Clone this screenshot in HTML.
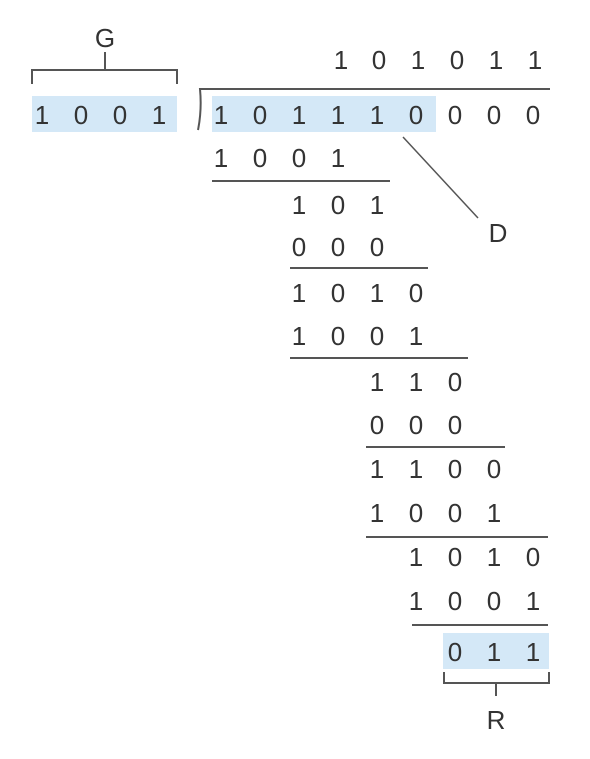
<!DOCTYPE html>
<html><head><style>
body{margin:0;background:#fff;}
svg text{font-family:"Liberation Sans","DejaVu Sans",sans-serif;font-size:26px;fill:#333;text-anchor:middle;dominant-baseline:central;}
</style></head><body>
<svg width="590" height="754" xmlns="http://www.w3.org/2000/svg">
<g fill="#d4e8f7">
<rect x="32" y="96" width="145" height="36"/>
<rect x="212" y="96" width="224" height="36"/>
<rect x="443" y="633" width="106" height="36"/>
</g>
<g stroke="#555" stroke-width="2" fill="none">
<path d="M32 84 V70 H177 V84"/><path d="M105 52 V70"/>
<path d="M198 130 Q202 110 200 89 H550"/>
<path d="M212 181 H390"/><path d="M290 268 H428"/><path d="M290 358 H468"/>
<path d="M366 447 H505"/><path d="M366 537 H548"/><path d="M412 625 H548"/>
<path d="M444 672 V683 H549 V672"/><path d="M496 683 V696"/>
<path d="M403 137 L478 218" stroke-width="1.5"/>
</g>
<text x="105" y="38">G</text>
<text x="498" y="233">D</text>
<text x="496" y="720">R</text>
<g>
<text x="42" y="115">1</text><text x="81" y="115">0</text><text x="120" y="115">0</text><text x="159" y="115">1</text>
<text x="341" y="60">1</text><text x="379" y="60">0</text><text x="418" y="60">1</text><text x="457" y="60">0</text><text x="496" y="60">1</text><text x="535" y="60">1</text>
<text x="221" y="115">1</text><text x="260" y="115">0</text><text x="299" y="115">1</text><text x="338" y="115">1</text><text x="377" y="115">1</text><text x="416" y="115">0</text><text x="455" y="115">0</text><text x="494" y="115">0</text><text x="533" y="115">0</text>
<text x="221" y="158">1</text><text x="260" y="158">0</text><text x="299" y="158">0</text><text x="338" y="158">1</text>
<text x="299" y="205">1</text><text x="338" y="205">0</text><text x="377" y="205">1</text>
<text x="299" y="247">0</text><text x="338" y="247">0</text><text x="377" y="247">0</text>
<text x="299" y="293">1</text><text x="338" y="293">0</text><text x="377" y="293">1</text><text x="416" y="293">0</text>
<text x="299" y="336">1</text><text x="338" y="336">0</text><text x="377" y="336">0</text><text x="416" y="336">1</text>
<text x="377" y="382">1</text><text x="416" y="382">1</text><text x="455" y="382">0</text>
<text x="377" y="425">0</text><text x="416" y="425">0</text><text x="455" y="425">0</text>
<text x="377" y="469">1</text><text x="416" y="469">1</text><text x="455" y="469">0</text><text x="494" y="469">0</text>
<text x="377" y="513">1</text><text x="416" y="513">0</text><text x="455" y="513">0</text><text x="494" y="513">1</text>
<text x="416" y="557">1</text><text x="455" y="557">0</text><text x="494" y="557">1</text><text x="533" y="557">0</text>
<text x="416" y="601">1</text><text x="455" y="601">0</text><text x="494" y="601">0</text><text x="533" y="601">1</text>
<text x="455" y="652">0</text><text x="494" y="652">1</text><text x="533" y="652">1</text>
</g>
</svg>
</body></html>
